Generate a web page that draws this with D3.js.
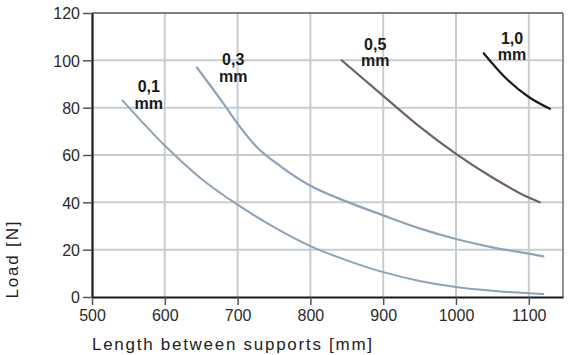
<!DOCTYPE html>
<html><head><meta charset="utf-8">
<script src="https://cdn.jsdelivr.net/npm/d3@7"></script>
<style>body{margin:0;background:#fff}svg{display:block}text{font-family:"Liberation Sans",Arial,sans-serif}</style>
</head><body><svg id="c" width="570" height="355"></svg>
<script>
const xTicks = [500, 600, 700, 800, 900, 1000, 1100];
const yTicks = [0, 20, 40, 60, 80, 100, 120];
const len01 = [542, 600, 650, 700, 750, 800, 850, 900, 950, 1000, 1050, 1100, 1120];
const load01 = [83, 64, 50, 39, 29.5, 21.5, 15.5, 10.5, 6.8, 4.2, 2.6, 1.6, 1.3];
const len03 = [644, 680, 703, 726, 760, 800, 850, 900, 950, 1000, 1050, 1100, 1120];
const load03 = [97, 82, 72, 63.5, 55, 47, 40.3, 34.5, 29, 24.5, 21, 18.3, 17.2];
const len05 = [843, 900, 950, 1000, 1050, 1100, 1115];
const load05 = [100, 85, 72, 60.5, 50.5, 42, 40];
const len10 = [1038, 1070, 1100, 1129];
const load10 = [103, 92, 84.5, 79.5];
const seriesNames = ["0,1", "0,3", "0,5", "1,0"];
const unitLabel = "mm";
const xTitle = "Length between supports [mm]";
const yTitle = "Load [N]";

const svg = d3.select("#c");
const L = 92, R = 563, T = 13, B = 297;
const x = d3.scaleLinear().domain([500, 1147]).range([L, R]);
const y = d3.scaleLinear().domain([0, 120]).range([B, T]);

// grid
svg.append("g").selectAll("line").data(xTicks.filter(d => d > 500)).join("line")
  .attr("x1", d => x(d)).attr("x2", d => x(d)).attr("y1", T).attr("y2", B)
  .attr("stroke", "#c9cdd2").attr("stroke-width", 2);
svg.append("g").selectAll("line").data(yTicks.filter(d => d > 0 && d < 120)).join("line")
  .attr("y1", d => y(d)).attr("y2", d => y(d)).attr("x1", L).attr("x2", R)
  .attr("stroke", "#c9cdd2").attr("stroke-width", 2);

// frame top/right
svg.append("line").attr("x1", L).attr("x2", R).attr("y1", T).attr("y2", T).attr("stroke", "#555").attr("stroke-width", 1.6);
svg.append("line").attr("x1", R).attr("x2", R).attr("y1", T).attr("y2", B).attr("stroke", "#777").attr("stroke-width", 1.6);

// axes
const xa = svg.append("g").attr("transform", `translate(0,${B})`)
  .call(d3.axisBottom(x).tickValues(xTicks).tickFormat(d3.format("d")).tickSize(8).tickPadding(4).tickSizeOuter(0));
const ya = svg.append("g").attr("transform", `translate(${L},0)`)
  .call(d3.axisLeft(y).tickValues(yTicks).tickFormat(d3.format("d")).tickSize(9).tickPadding(3).tickSizeOuter(0));
[xa, ya].forEach(a => {
  a.select(".domain").attr("stroke", "#1a1a1a").attr("stroke-width", 2.2);
  a.selectAll(".tick line").attr("stroke", "#555").attr("stroke-width", 1.5);
  a.selectAll(".tick text").attr("fill", "#2a2a2a").attr("font-size", 16)
   .attr("font-family", "Liberation Sans, Arial, sans-serif");
});
ya.selectAll(".tick text").attr("dy", "0.36em");
xa.selectAll(".tick text").attr("dy", "0.78em");

// curves
const line = d3.line().x(d => x(d[0])).y(d => y(d[1])).curve(d3.curveMonotoneX);
const series = [
  {xs: len01, ys: load01, color: "#8ea2ba", w: 2},
  {xs: len03, ys: load03, color: "#8ea2ba", w: 2.2},
  {xs: len05, ys: load05, color: "#6f6165", w: 2.2},
  {xs: len10, ys: load10, color: "#1b1b1b", w: 2.2}
];
svg.append("g").selectAll("path").data(series).join("path")
  .attr("d", s => line(s.xs.map((v, i) => [v, s.ys[i]])))
  .attr("fill", "none").attr("stroke", s => s.color).attr("stroke-width", s => s.w)
  .attr("stroke-linecap", "round");

// labels (anchored in data coords)
const labelPos = [[578, 86.6], [694, 98], [889, 104.4], [1077, 107]];
const lg = svg.append("g").attr("font-size", 16).attr("fill", "#1a1a1a").attr("text-anchor", "middle");
seriesNames.forEach((n, i) => {
  const lx = x(labelPos[i][0]), ly = y(labelPos[i][1]);
  lg.append("text").attr("x", lx).attr("y", ly).text(n).attr("font-weight", "bold");
  lg.append("text").attr("x", lx).attr("y", ly + 16.5).text(unitLabel).attr("font-weight", "bold");
});

// titles
svg.append("text").attr("x", 232).attr("y", 350).attr("text-anchor", "middle")
  .attr("font-size", 17).attr("fill", "#222").attr("textLength", 280).attr("lengthAdjust", "spacing").text(xTitle);
svg.append("text").attr("transform", "translate(18,260) rotate(-90)").attr("text-anchor", "middle")
  .attr("font-size", 17).attr("fill", "#222").attr("textLength", 77).attr("lengthAdjust", "spacing").text(yTitle);
</script></body></html>
